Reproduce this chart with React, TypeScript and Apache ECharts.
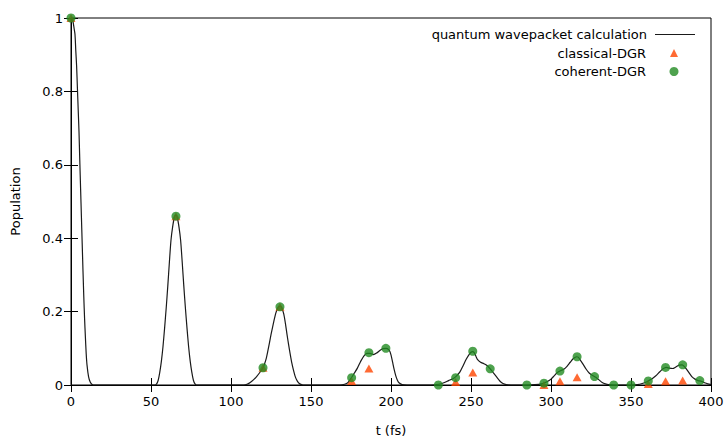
import React, { useEffect, useRef } from "react";
import * as echarts from "echarts";

// Quantum wavepacket calculation (t in fs, population)
const quantumPeak1: number[][] = [
  [0, 1], [1, 0.995], [2, 0.97], [2.5, 0.955], [3, 0.91], [3.5, 0.87], [4, 0.81], [4.5, 0.75],
  [5, 0.69], [5.5, 0.61], [6, 0.535], [6.5, 0.46], [7, 0.385], [7.5, 0.31], [8, 0.24],
  [8.5, 0.18], [9, 0.13], [9.5, 0.085], [10, 0.055], [11, 0.022], [12, 0.008], [13, 0.002],
  [14, 0], [30, 0], [50, 0],
];
const quantumPeak2: number[][] = [
  [52.5, 0], [53.5, 0.003], [54.5, 0.013], [55.5, 0.035], [56.5, 0.065], [57.5, 0.105],
  [58.5, 0.155], [59.5, 0.21], [60.5, 0.27], [61.5, 0.335], [62.5, 0.395], [63.5, 0.43],
  [64.5, 0.455], [65.5, 0.463], [66.5, 0.455], [67.5, 0.43], [68.5, 0.395], [69.5, 0.335],
  [70.5, 0.27], [71.5, 0.21], [72.5, 0.155], [73.5, 0.105], [74.5, 0.065], [75.5, 0.035],
  [76.5, 0.013], [77.5, 0.003], [78.5, 0], [95, 0],
];
const quantumPeak3: number[][] = [
  [108, 0], [110, 0.002], [112, 0.007], [114, 0.014], [116, 0.023], [118, 0.034], [120, 0.047],
  [121, 0.058], [122, 0.072], [123, 0.092], [124, 0.114], [125, 0.137], [126, 0.158],
  [127, 0.178], [128, 0.196], [129, 0.208], [130, 0.214], [131, 0.215], [132, 0.207],
  [133, 0.193], [134, 0.168], [135, 0.138], [136, 0.11], [137, 0.084], [138, 0.06],
  [139, 0.041], [140, 0.025], [141, 0.014], [142, 0.007], [143, 0.003], [145, 0], [160, 0],
];
const quantumPeak4: number[][] = [
  [168, 0], [171, 0.002], [173, 0.006], [175, 0.018], [177, 0.032], [179, 0.046], [181, 0.064],
  [183, 0.079], [185, 0.086], [187, 0.086], [189, 0.083], [191, 0.087], [193, 0.094],
  [195, 0.099], [197, 0.1], [199, 0.094], [200, 0.082], [201, 0.062], [202, 0.042],
  [203, 0.025], [204, 0.013], [205, 0.006], [207, 0.001], [210, 0],
];
const quantumPeak5: number[][] = [
  [225, 0], [230, 0.002], [233, 0.006], [236, 0.012], [239, 0.018], [241, 0.025], [243, 0.035],
  [245, 0.052], [247, 0.07], [249, 0.084], [250, 0.089], [251, 0.091], [252, 0.088],
  [253, 0.079], [254, 0.07], [256, 0.062], [258, 0.058], [260, 0.053], [262, 0.044],
  [264, 0.033], [266, 0.022], [268, 0.011], [270, 0.004], [272, 0.001], [275, 0],
];
const quantumPeak6: number[][] = [
  [285, 0], [290, 0.001], [294, 0.003], [296, 0.006], [298, 0.01], [300, 0.016], [302, 0.025],
  [304, 0.034], [306, 0.039], [308, 0.043], [310, 0.051], [312, 0.062], [314, 0.072],
  [316, 0.077], [317, 0.076], [318, 0.07], [320, 0.057], [322, 0.043], [324, 0.032],
  [326, 0.026], [328, 0.021], [330, 0.014], [332, 0.007], [334, 0.003], [336, 0.001], [340, 0],
];
const quantumPeak7: number[][] = [
  [350, 0], [354, 0.001], [357, 0.004], [360, 0.009], [362, 0.014], [364, 0.02], [366, 0.027],
  [368, 0.036], [370, 0.044], [372, 0.048], [374, 0.046], [376, 0.045], [378, 0.049],
  [380, 0.054], [382, 0.055], [384, 0.047], [386, 0.035], [388, 0.023], [390, 0.016],
  [392, 0.012], [394, 0.01], [396, 0.006], [398, 0.003], [400, 0.001],
];

// Sampling times of the DGR methods
const dgrTimes = [
  0, 65.6, 120, 130.6, 175.4, 186.2, 196.8, 229.6, 240.4, 251.1, 262, 284.9, 295.6, 305.6,
  316.3, 327.2, 339.2, 350, 360.8, 371.6, 382.3, 393,
];
const coherentValues = [
  1, 0.46, 0.047, 0.213, 0.02, 0.088, 0.1, 0, 0.02, 0.092, 0.044, 0, 0.005, 0.038,
  0.077, 0.023, 0, 0, 0.011, 0.048, 0.055, 0.012,
];
// classical-DGR (null where no triangle is visible)
const classicalValues = [
  1, 0.46, 0.047, 0.213, 0.011, 0.045, null, null, 0.008, 0.034, null, null, 0, 0.01,
  0.021, null, null, null, 0.003, 0.01, 0.012, null,
];

const xTicks = { min: 0, max: 400, interval: 50 };
const yTicks = { min: 0, max: 1, interval: 0.2 };

const FONT = "DejaVu Sans";

export default function App() {
  const ref = useRef<HTMLDivElement>(null);
  useEffect(() => {
    if (!ref.current) return;
    const chart = echarts.init(ref.current, null, { renderer: "svg" });
    const quantum = [
      ...quantumPeak1, ...quantumPeak2, ...quantumPeak3, ...quantumPeak4,
      ...quantumPeak5, ...quantumPeak6, ...quantumPeak7,
    ];
    const coherent = dgrTimes.map((t, i) => [t, coherentValues[i]]);
    const classical = dgrTimes
      .map((t, i) => [t, classicalValues[i]])
      .filter((p) => p[1] !== null);

    const labelStyle = { fontFamily: FONT, fontSize: 13, color: "#000" };
    const tick = { show: true, inside: true, length: 7, lineStyle: { color: "#000", width: 1 } };
    const line = { show: true, lineStyle: { color: "#000", width: 1 } };
    const legendBase = {
      orient: "vertical",
      align: "right",
      padding: 0,
      selectedMode: false,
    };

    chart.setOption({
      animation: false,
      backgroundColor: "#fff",
      grid: {
        left: 71, right: 13, top: 18, bottom: 52,
        show: true, borderColor: "#000", borderWidth: 1,
        containLabel: false, outerBoundsMode: "none",
      },
      legend: [
        {
          ...legendBase, right: 29, top: 28, itemWidth: 40, itemHeight: 14,
          textStyle: { ...labelStyle, padding: [0, 3, 0, 0] },
          data: [{ name: "quantum wavepacket calculation", icon: "path://M0,0H40V1.2H0Z" }],
        },
        {
          ...legendBase, right: 46, top: 46.5, itemWidth: 8, itemHeight: 8,
          textStyle: { ...labelStyle, padding: [0, 19, 0, 0] },
          data: ["classical-DGR"],
        },
        {
          ...legendBase, right: 45.5, top: 65, itemWidth: 9, itemHeight: 9,
          textStyle: { ...labelStyle, padding: [0, 18.5, 0, 0] },
          data: ["coherent-DGR"],
        },
      ],
      xAxis: [
        {
          type: "value", ...xTicks, position: "bottom",
          axisLine: line, axisTick: tick, splitLine: { show: false },
          axisLabel: { ...labelStyle, margin: 10 },
          name: "t (fs)", nameLocation: "middle", nameGap: 39,
          nameTextStyle: labelStyle,
        },
        {
          type: "value", ...xTicks, position: "top",
          axisLine: line, axisTick: tick, splitLine: { show: false },
          axisLabel: { show: false },
        },
      ],
      yAxis: [
        {
          type: "value", ...yTicks, position: "left",
          axisLine: line, axisTick: tick, splitLine: { show: false },
          axisLabel: { ...labelStyle, margin: 8 },
          name: "Population", nameLocation: "middle", nameGap: 49, nameRotate: 90,
          nameTextStyle: labelStyle,
        },
        {
          type: "value", ...yTicks, position: "right",
          axisLine: line, axisTick: tick, splitLine: { show: false },
          axisLabel: { show: false },
        },
      ],
      series: [
        {
          name: "quantum wavepacket calculation",
          type: "line",
          data: quantum,
          symbol: "none",
          smooth: 0.25,
          lineStyle: { color: "#1a1a1a", width: 1.2 },
          itemStyle: { color: "#1a1a1a" },
          z: 2,
        },
        {
          name: "classical-DGR",
          type: "scatter",
          data: classical,
          symbol: "triangle",
          symbolSize: [9, 8],
          itemStyle: { color: "#ff4500" },
          clip: false,
          z: 3,
        },
        {
          name: "coherent-DGR",
          type: "scatter",
          data: coherent,
          symbol: "circle",
          symbolSize: 9,
          itemStyle: { color: "#228b22" },
          clip: false,
          z: 4,
        },
      ],
    });
    return () => chart.dispose();
  }, []);
  return (
    <div
      ref={ref}
      style={{ position: "fixed", left: 0, top: 0, width: 724, height: 437, background: "#fff" }}
    />
  );
}
